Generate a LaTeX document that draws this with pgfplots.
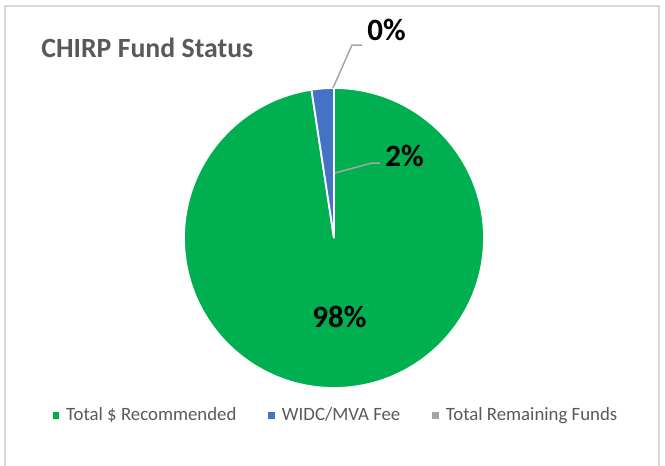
\documentclass[border=0pt]{standalone}
\usepackage{fontspec}
\setmainfont{Carlito}
\usepackage{pgfplots}
\usepackage{pgfplotstable}
\pgfplotsset{compat=1.18}
\definecolor{pgreen}{HTML}{00B050}
\definecolor{pblue}{HTML}{4472C4}
\definecolor{pgrey}{HTML}{A5A5A5}
\definecolor{ptext}{HTML}{595959}
\definecolor{pline}{HTML}{A6A6A6}
\definecolor{pframe}{HTML}{D9D9D9}

\pgfplotstableread{
slice value
1 97.6
2 2.4
3 0.0
}\piedata

\begin{document}
\begin{tikzpicture}
\pgfplotstablegetelem{0}{value}\of\piedata \let\vA\pgfplotsretval
\pgfplotstablegetelem{1}{value}\of\piedata \let\vB\pgfplotsretval
\pgfplotstablegetelem{2}{value}\of\piedata \let\vC\pgfplotsretval
\pgfmathsetmacro{\tot}{\vA+\vB+\vC}
\pgfmathsetmacro{\fA}{\vA/\tot}
\pgfmathsetmacro{\fB}{\vB/\tot}
\pgfmathsetmacro{\aA}{90}
\pgfmathsetmacro{\aB}{90-360*\fA}
\pgfmathsetmacro{\aC}{\aB-360*\fB}
\begin{scope}[x=0.5pt,y=-0.5pt]
\useasboundingbox (0,0) rectangle (665,466);
\draw[pframe, line width=1.3pt] (5,470) -- (5,6) -- (659,6) -- (659,470);
\end{scope}
\begin{axis}[
  at={(167pt,-119pt)}, anchor=center,
  width=150pt, height=150pt, scale only axis,
  xmin=-1, xmax=1, ymin=-1, ymax=1,
  hide axis, clip=false,
  legend columns=3,
  legend cell align=left,
  legend style={draw=none, fill=none, at={(rel axis cs:0.51,-0.09)}, anchor=center,
    font=\fontsize{9.4}{11}\selectfont, text=ptext,
    /tikz/every even column/.append style={column sep=14pt},
    /tikz/every odd column/.append style={column sep=1.5pt}},
  legend image code/.code={\fill[#1] (0pt,-1.45pt) rectangle (2.9pt,1.45pt);},
]
\addlegendimage{pgreen}\addlegendentry{Total \$ Recommended}
\addlegendimage{pblue}\addlegendentry{WIDC/MVA Fee}
\addlegendimage{pgrey}\addlegendentry{Total Remaining Funds}
\filldraw[fill=pgreen, draw=white, line width=0.9pt] (axis cs:0,0) -- ++(\aA:75pt) arc[start angle=\aA, end angle=\aB, radius=75pt] -- cycle;
\filldraw[fill=pblue, draw=white, line width=0.9pt] (axis cs:0,0) -- ++(\aB:75pt) arc[start angle=\aB, end angle=\aC, radius=75pt] -- cycle;
\end{axis}
\begin{scope}[x=0.5pt,y=-0.5pt]
\node[anchor=base west, inner sep=0, text=ptext, font=\fontsize{13.9}{16}\selectfont\bfseries] at (41,57) {CHIRP Fund Status};
\draw[pline, line width=0.75pt] (333,88) -- (352,45) -- (362,45);
\draw[pline, line width=0.75pt] (335,173) -- (372,163) -- (380,163);
\node[anchor=base west, inner sep=0, font=\fontsize{15.5}{18}\selectfont\bfseries] at (367,40) {0\%};
\node[anchor=base west, inner sep=0, font=\fontsize{15.5}{18}\selectfont\bfseries] at (385,166) {2\%};
\node[anchor=base west, inner sep=0, font=\fontsize{15.5}{18}\selectfont\bfseries] at (312,327) {98\%};
\end{scope}
\end{tikzpicture}
\end{document}
